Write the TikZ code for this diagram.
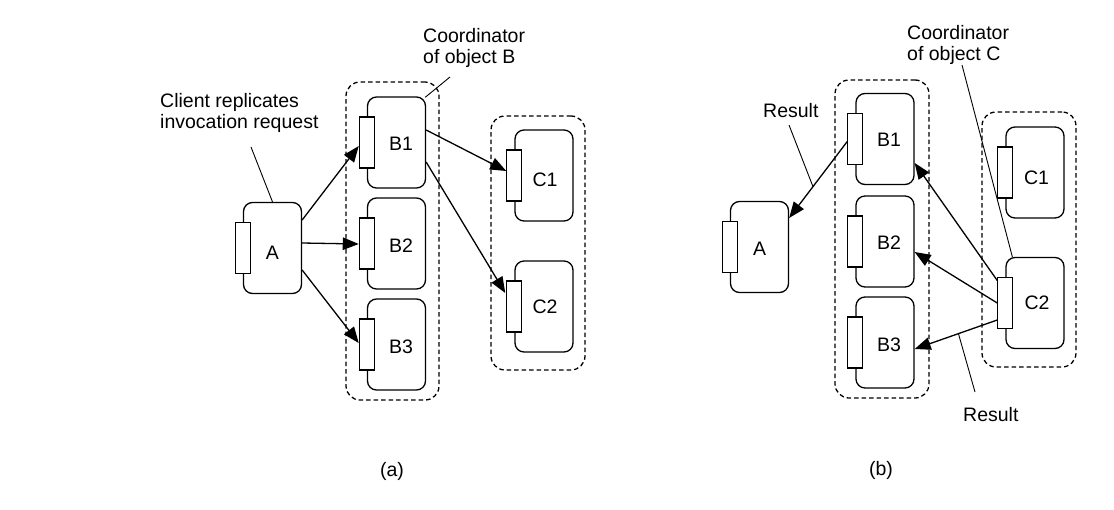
\documentclass[tikz,border=0pt]{standalone}
\usepackage{fontspec}
\setmainfont{Liberation Sans}
\usetikzlibrary{arrows.meta,calc}
\begin{document}
\begin{tikzpicture}[x=1pt,y=-1pt,
 txt/.style={font=\fontsize{19.5}{21}\selectfont},
 obj/.style={draw,line width=1.3pt,rounded corners=9pt,minimum width=58pt,minimum height=91pt,inner sep=0pt},
 port/.style={draw,line width=1.2pt,fill=white,minimum width=15pt,minimum height=51pt,inner sep=0pt},
 grp/.style={draw,line width=1.3pt,dash pattern=on 4.5pt off 3pt,rounded corners=14pt,inner sep=0pt},
 note/.style={txt,align=left,inner sep=0pt,anchor=north west},
 lead/.style={line width=0.9pt},
 arr/.style={line width=1.3pt,-{Triangle[length=16pt,width=12.5pt]}},
 captxt/.style={txt,inner sep=0pt}]

\useasboundingbox (0,0) rectangle (1114,509);

% ---------- (a) ----------
\node[grp,minimum width=93pt,minimum height=318pt] (aGB) at (392.5,241) {};
\node[grp,minimum width=94pt,minimum height=254pt] (aGC) at (538,243) {};

\node[obj,label={[txt,inner sep=0pt,yshift=-5pt]center:A}] (aA) at (272.5,248) {};
\node[obj,label={[txt,inner sep=0pt,xshift=4.5pt,yshift=-1pt]center:B1}] (aB1) at (396.5,142.5) {};
\node[obj,label={[txt,inner sep=0pt,xshift=4.5pt,yshift=-2pt]center:B2}] (aB2) at (396.5,243.5) {};
\node[obj,label={[txt,inner sep=0pt,xshift=4.5pt,yshift=-2pt]center:B3}] (aB3) at (396.5,344.5) {};
\node[obj,label={[txt,inner sep=0pt,xshift=1pt,yshift=-4pt]center:C1}] (aC1) at (544,175.5) {};
\node[obj,label={[txt,inner sep=0pt,xshift=1pt]center:C2}] (aC2) at (544,306.5) {};

\node[port] (aAp) at (aA.west) {};
\node[port] (aB1p) at (aB1.west) {};
\node[port] (aB2p) at (aB2.west) {};
\node[port] (aB3p) at (aB3.west) {};
\node[port] (aC1p) at (aC1.west) {};
\node[port] (aC2p) at (aC2.west) {};

\draw[arr] ([yshift=28pt]aA.east) -- ([yshift=-3.5pt]aB1p.west);
\draw[arr] ([yshift=5pt]aA.east) -- ([yshift=-0.5pt]aB2p.west);
\draw[arr] ([yshift=-22pt]aA.east) -- ([yshift=1.5pt]aB3p.west);
\draw[arr] ([yshift=12.5pt]aB1.east) -- ([yshift=4.5pt]aC1p.west);
\draw[arr] ([yshift=-19.5pt]aB1.east) -- ([xshift=-1pt,yshift=13.5pt]aC2p.west);

\node[note] (aT1) at (160,93) {Client replicates\\invocation request};
\coordinate (aT1e) at (251,147);
\draw[lead] (aT1e) -- (aA.north);

\node[note] (aT2) at (423,28) {Coordinator\\of object B};
\coordinate (aT2e) at (450,77);
\draw[lead] (aT2e) -- ([xshift=-1pt,yshift=-1pt]aB1.north east);

\node[captxt] (capa) at (392,471) {(a)};

% ---------- (b) ----------
\node[grp,minimum width=94pt,minimum height=318pt] (bGB) at (882,239) {};
\node[grp,minimum width=94pt,minimum height=255pt] (bGC) at (1029,239.5) {};

\node[obj,label={[txt,inner sep=0pt,yshift=-2pt]center:A}] (bA) at (759.5,247) {};
\node[obj,label={[txt,inner sep=0pt,xshift=4pt,yshift=-1pt]center:B1}] (bB1) at (885,139) {};
\node[obj,label={[txt,inner sep=0pt,xshift=4pt,yshift=-1pt]center:B2}] (bB2) at (885,241.5) {};
\node[obj,label={[txt,inner sep=0pt,xshift=4pt,yshift=-2pt]center:B3}] (bB3) at (885,342.5) {};
\node[obj,label={[txt,inner sep=0pt,xshift=1.5pt,yshift=-5pt]center:C1}] (bC1) at (1035,172.5) {};
\node[obj,label={[txt,inner sep=0pt,xshift=2pt]center:C2}] (bC2) at (1035,303) {};

\node[port] (bAp) at (bA.west) {};
\node[port] (bB1p) at (bB1.west) {};
\node[port] (bB2p) at (bB2.west) {};
\node[port] (bB3p) at (bB3.west) {};
\node[port] (bC1p) at (bC1.west) {};
\node[port] (bC2p) at (bC2.west) {};

\draw[arr] ([yshift=-2.5pt]bB1p.west) -- coordinate[pos=0.59] (bR1) ([yshift=29pt]bA.east);
\draw[arr] ([yshift=22.5pt]bC2p.west) -- ([yshift=-24pt]bB1.east);
\draw[arr] (bC2p.west) -- ([yshift=-10.5pt]bB2.east);
\draw[arr] ([yshift=-17pt]bC2p.west) -- coordinate[pos=0.47] (bR2) ([yshift=-6.5pt]bB3.east);

\node[note] (bT1) at (907,25) {Coordinator\\of object C};
\coordinate (bT1e) at (962,65);
\draw[lead] (bT1e) -- ([xshift=7pt]bC2.north west);

\node[note] (bT2) at (763,103) {Result};
\coordinate (bT2e) at (789,125);
\draw[lead] (bT2e) -- (bR1);

\node[note] (bT3) at (963,407) {Result};
\coordinate (bT3e) at (975,392);
\draw[lead] (bT3e) -- (bR2);

\node[captxt] (capb) at (881,470) {(b)};
\end{tikzpicture}
\end{document}
